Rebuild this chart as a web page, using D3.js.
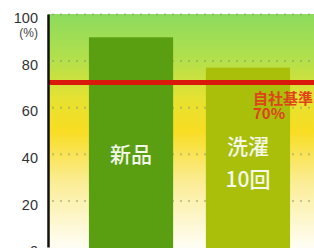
<!DOCTYPE html>
<html>
<head>
    <meta charset="utf-8">
    <title>洗濯耐久性</title>
    <script src="https://d3js.org/d3.v7.min.js"></script>
    <style>
        html, body { margin: 0; padding: 0; background: #fff; }
        svg { display: block; }
    </style>
</head>
<body>
    <div id="container"></div>
    <script>
        //------------------------DATA------------------------//
        var categories = ["新品", "洗濯10回"];
        var barLabels = [["新品"], ["洗濯", "10回"]];
        var values = [90, 77];
        var yTicks = [0, 20, 40, 60, 80, 100];
        var gridTicks = [20, 40, 60, 80, 100];
        var standardValue = 70;
        var standardLabel = ["自社基準", "70%"];
        var unitLabel = "(%)";

        //------------------------SETUP------------------------//
        var W = 314, H = 248;
        var margin = { top: 14, left: 48, bottom: 1 };
        var barColors = ["#5a9f12", "#a9bf0a"];

        var svg = d3.select("#container").append("svg")
            .attr("width", W).attr("height", H);

        var x = d3.scaleBand()
            .domain(categories)
            .range([margin.left, 331])
            .paddingInner(0.28)
            .paddingOuter(0.35);

        var y = d3.scaleLinear()
            .domain([0, 100])
            .range([H - margin.bottom, margin.top]);

        //------------------------BACKGROUND------------------------//
        var defs = svg.append("defs");
        var grad = defs.append("linearGradient")
            .attr("id", "bg").attr("x1", 0).attr("y1", 0).attr("x2", 0).attr("y2", 1);
        [[0, "#8cdb5e"], [0.2, "#b4e04b"], [0.36, "#e6e232"], [0.5, "#f8dd22"],
         [0.72, "#fbed96"], [1, "#fffef6"]].forEach(function (s) {
            grad.append("stop").attr("offset", s[0]).attr("stop-color", s[1]);
        });

        svg.append("rect")
            .attr("x", margin.left).attr("y", y(100))
            .attr("width", W - margin.left).attr("height", y(0) - y(100) + 1)
            .attr("fill", "url(#bg)");

        // dotted grid
        svg.append("g").selectAll("line")
            .data(gridTicks)
            .enter().append("line")
            .attr("x1", margin.left + 4).attr("x2", W)
            .attr("y1", function (d) { return y(d) + 0.5; })
            .attr("y2", function (d) { return y(d) + 0.5; })
            .attr("stroke", "#8f9a70")
            .attr("stroke-opacity", 0.55)
            .attr("stroke-width", 2)
            .attr("stroke-dasharray", "2,6");

        //------------------------BARS------------------------//
        svg.append("g").selectAll("rect")
            .data(values)
            .enter().append("rect")
            .attr("x", function (d, i) { return x(categories[i]); })
            .attr("y", function (d) { return y(d); })
            .attr("width", x.bandwidth())
            .attr("height", function (d) { return y(0) - y(d) + 2; })
            .attr("fill", function (d, i) { return barColors[i]; });

        var lbl = svg.append("g").selectAll("text")
            .data(barLabels)
            .enter().append("text")
            .attr("text-anchor", "middle")
            .attr("fill", "#f4f8e8")
            .style("font-family", "'Noto Sans CJK JP', sans-serif")
            .style("font-size", "21px")
            .style("font-weight", 500)
            .attr("transform", function (d, i) {
                var cx = x(categories[i]) + x.bandwidth() / 2;
                var top = d.length > 1 ? 146 : 154;
                return "translate(" + cx + "," + top + ")";
            });
        lbl.selectAll("tspan")
            .data(function (d) { return d; })
            .enter().append("tspan")
            .attr("x", 0)
            .attr("y", function (d, i) { return i * 33; })
            .attr("dy", "0.36em")
            .text(function (d) { return d; });

        //------------------------STANDARD LINE------------------------//
        svg.append("line")
            .attr("x1", margin.left).attr("x2", W)
            .attr("y1", y(standardValue) - 1.5).attr("y2", y(standardValue) - 1.5)
            .attr("stroke", "#d8190c")
            .attr("stroke-width", 5);

        // two-line label kept in one text element
        var sx = x(categories[1]) + x.bandwidth() * 0.56;
        svg.append("text")
            .attr("transform", "translate(" + sx + "," + (y(standardValue) + 15) + ")")
            .attr("fill", "#de4418")
            .style("font-family", "'Noto Sans CJK JP', sans-serif")
            .style("font-weight", "bold")
            .style("font-size", "15px")
            .selectAll("tspan")
            .data(standardLabel)
            .enter().append("tspan")
            .attr("x", 0)
            .attr("y", function (d, i) { return i * 15; })
            .attr("dy", "0.36em")
            .text(function (d) { return d; });

        //------------------------AXIS------------------------//
        var axis = svg.append("g")
            .attr("transform", "translate(" + margin.left + ",0)")
            .call(d3.axisLeft(y).tickValues(yTicks).tickSize(0).tickPadding(10));
        axis.select(".domain")
            .attr("stroke", "#111")
            .attr("stroke-width", 2.5);
        axis.selectAll("text")
            .attr("fill", "#333")
            .attr("dy", "0.6em")
            .style("font-family", "'Liberation Sans', Arial, sans-serif")
            .style("font-size", "14.5px");

        svg.append("text")
            .attr("x", margin.left - 10)
            .attr("y", y(100) + 19)
            .attr("dy", "0.36em")
            .attr("text-anchor", "end")
            .attr("fill", "#444")
            .style("font-family", "'Liberation Sans', Arial, sans-serif")
            .style("font-size", "12px")
            .text(unitLabel);
    </script>
</body>
</html>
